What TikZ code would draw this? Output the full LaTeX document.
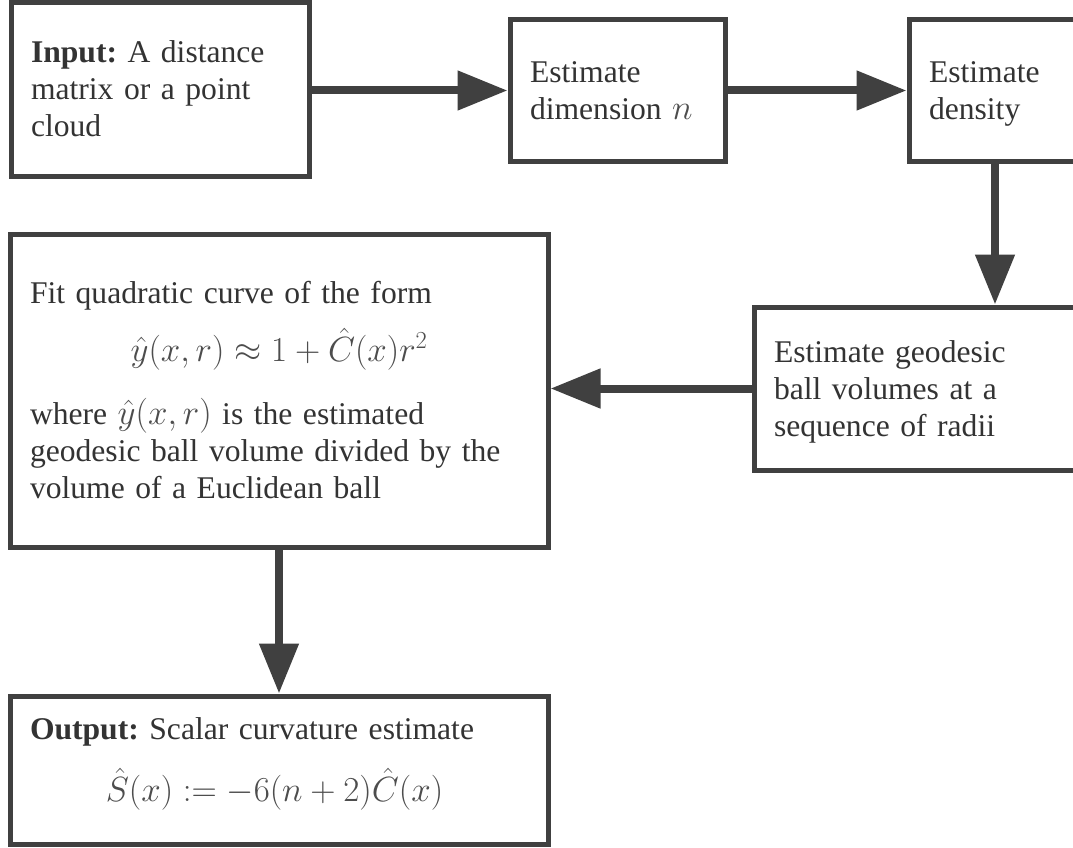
\documentclass[tikz,border=0pt]{standalone}
\usepackage{fix-cm}
\usepackage[no-math]{fontspec}
\setmainfont{Liberation Serif}
\usetikzlibrary{arrows.meta}
\definecolor{ln}{HTML}{404040}
\definecolor{tx}{HTML}{333333}
\definecolor{mt}{HTML}{4d4d4d}
\newcommand{\mth}[1]{{\fontsize{35}{37}\selectfont\textcolor{mt}{$#1$}}}
\newcommand{\stt}{\rule[-8pt]{0pt}{37pt}}
\frenchspacing
\begin{document}
\begin{tikzpicture}[x=1pt,y=-1pt,
  box/.style={draw=ln, line width=5pt, rectangle, inner xsep=20pt, inner ysep=0pt,
    text=tx, align=left, font=\fontsize{31.6}{37}\selectfont, anchor=center},
  flow/.style={draw=ln, line width=8pt, -{Triangle[length=50pt,width=38pt]}}]
\useasboundingbox (0,0) rectangle (1073,848);
\clip (0,0) rectangle (1073,848);
\fill[white] (0,0) rectangle (1073,848);

\node[box, minimum width=298pt, minimum height=173pt, text width=258pt] (in) at (160,89.5)
  {\stt\textbf{Input:} A distance\\matrix or a point\\cloud\stt};
\node[box, minimum width=215pt, minimum height=141pt, text width=175pt] (dim) at (617.5,90.5)
  {\stt Estimate\\dimension \mth{n}\stt};
\node[box, minimum width=172pt, minimum height=141pt, text width=132pt] (den) at (995,90.5)
  {\stt Estimate\\density\stt};
\node[box, minimum width=538pt, minimum height=313pt, text width=498pt] (fit) at (279,390.5)
  {\stt Fit quadratic curve of the form\\[15pt]
   \makebox[\hsize]{\mth{\hat{y}(x,r)\approx 1+\hat{C}(x)r^2}}\\[26pt]
   where \mth{\hat{y}(x,r)} is the estimated\\
   geodesic ball volume divided by the\\
   volume of a Euclidean ball\stt};
\node[box, minimum width=356pt, minimum height=163pt, text width=316pt] (geo) at (932,388.5)
  {\stt Estimate geodesic\\ball volumes at a\\sequence of radii\stt};
\node[box, minimum width=538pt, minimum height=148pt, text width=498pt] (out) at (279,770)
  {\stt\textbf{Output:} Scalar curvature estimate\\[20pt]
   \makebox[\hsize]{\mth{\hat{S}(x):=-6(n+2)\hat{C}(x)}\hspace{9pt}}\rule[-28pt]{0pt}{28pt}};

\draw[flow] (in.east |- dim.west) -- (dim.west);
\draw[flow] (dim.east) -- (den.west);
\draw[flow] (den.south) -- (den.south |- geo.north);
\draw[flow] (geo.west) -- (geo.west -| fit.east);
\draw[flow] (fit.south) -- (out.north);
\end{tikzpicture}
\end{document}
